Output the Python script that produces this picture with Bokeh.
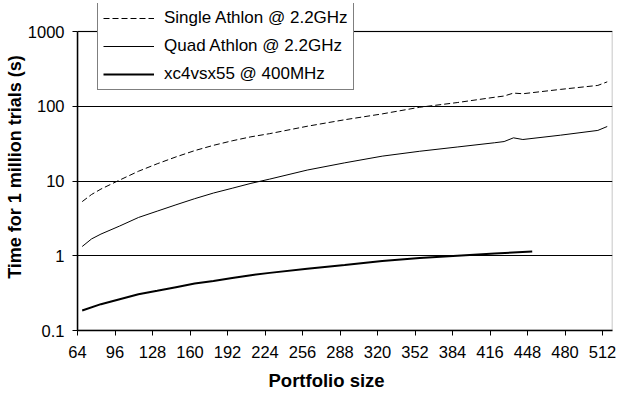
from bokeh.plotting import figure
from bokeh.models import FixedTicker, Legend, LegendItem, CustomJSTickFormatter, Range1d, BoxAnnotation, Title
from bokeh.embed import file_html
from bokeh.resources import INLINE

# ---- data ----
x_cpu = [68, 76, 84, 100, 116, 132, 148, 164, 180, 196, 212, 228, 260, 292, 324,
         356, 388, 420, 428, 436, 444, 476, 508, 516]
single_athlon = [5.3, 6.6, 7.8, 10.3, 13.5, 17.0, 21.0, 25.5, 30.0, 34.5, 39.0, 43.0,
                 54.0, 66.0, 79.0, 97.0, 112.0, 132.0, 137.0, 150.0, 147.0, 168.0, 190.0, 212.0]
quad_athlon = [1.33, 1.68, 1.95, 2.5, 3.25, 3.95, 4.8, 5.8, 6.9, 8.0, 9.3, 10.6,
               14.0, 17.5, 21.5, 25.0, 28.5, 32.5, 33.7, 37.8, 35.9, 41.0, 47.5, 53.6]
x_fpga = [68, 84, 100, 116, 132, 148, 164, 180, 196, 212, 228, 260, 292, 324, 356,
          388, 420, 452]
fpga = [0.185, 0.225, 0.262, 0.305, 0.34, 0.38, 0.425, 0.46, 0.505, 0.55, 0.59,
        0.67, 0.75, 0.85, 0.93, 1.0, 1.07, 1.14]

x_ticks = [64, 96, 128, 160, 192, 224, 256, 288, 320, 352, 384, 416, 448, 480, 512]
y_ticks = [0.1, 1, 10, 100, 1000]
series_names = ["Single Athlon @ 2.2GHz", "Quad Athlon @ 2.2GHz", "xc4vsx55 @ 400MHz"]
x_title = "Portfolio size"
y_title = "Time for 1 million trials (s)"

FONT = "Liberation Sans"

X_MIN, X_MAX = 64, 520.5
Y_MIN, Y_MAX = 0.1, 1000
# the frame reaches above the 1000 line so that the legend may stick out above the plot box
Y_TOP = 10 ** (3 + 28 / 74.75)

p = figure(width=634, height=398, y_axis_type="log",
           x_range=Range1d(X_MIN, X_MAX), y_range=Range1d(Y_MIN, Y_TOP),
           output_backend="svg", toolbar_location=None,
           min_border_left=77, min_border_right=22, min_border_top=3, min_border_bottom=68)

p.background_fill_color = "white"
p.border_fill_color = "white"
p.outline_line_color = None

p.xgrid.visible = False
p.ygrid.grid_line_color = "black"
p.ygrid.grid_line_width = 1

# plot-area box (top at 1000, right edge)
p.add_layout(BoxAnnotation(left=X_MIN, right=X_MAX, bottom=Y_MIN, top=Y_MAX,
                           fill_alpha=0, line_color="black", line_width=1.5))

p.xaxis.ticker = FixedTicker(ticks=x_ticks)
p.yaxis.ticker = FixedTicker(ticks=y_ticks)
p.yaxis.formatter = CustomJSTickFormatter(code="return String(tick);")
p.yaxis.bounds = (Y_MIN, Y_MAX)

for ax in (p.xaxis[0], p.yaxis[0]):
    ax.axis_line_color = "black"
    ax.axis_line_width = 1.5
    ax.major_tick_line_color = "black"
    ax.major_tick_line_width = 1
    ax.major_tick_out = 5
    ax.major_tick_in = 0
    ax.minor_tick_line_color = None
    ax.major_label_text_font = FONT
    ax.major_label_text_font_size = "16.5px"
    ax.major_label_text_color = "black"
    ax.axis_label_text_font = FONT
    ax.axis_label_text_font_size = "18px"
    ax.axis_label_text_font_style = "bold"
    ax.axis_label_text_color = "black"

p.xaxis.major_label_standoff = 10
p.yaxis.axis_label = y_title
p.yaxis.major_label_standoff = 8
p.yaxis.axis_label_standoff = 0

# x-axis title, placed left of the frame centre as in the reference
p.add_layout(Title(text=x_title, align="left", offset=191, standoff=14,
                   text_font=FONT, text_font_size="18.5px", text_font_style="bold",
                   text_color="black"), "below")

r1 = p.line(x_cpu, single_athlon, line_color="black", line_width=1, line_dash="6 3")
r2 = p.line(x_cpu, quad_athlon, line_color="black", line_width=1)
r3 = p.line(x_fpga, fpga, line_color="black", line_width=2)

legend = Legend(items=[LegendItem(label=series_names[0], renderers=[r1]),
                       LegendItem(label=series_names[1], renderers=[r2]),
                       LegendItem(label=series_names[2], renderers=[r3])],
                location=(20, 240))
legend.border_line_color = "black"
legend.border_line_width = 1
legend.background_fill_color = "white"
legend.background_fill_alpha = 1
legend.padding = 5
legend.spacing = 8
legend.margin = 0
legend.label_height = 20
legend.glyph_height = 20
legend.glyph_width = 51
legend.label_standoff = 10
legend.label_text_font = FONT
legend.label_text_font_size = "17px"
legend.label_text_color = "black"
p.add_layout(legend)

open("out.html", "w").write(file_html(p, INLINE))
